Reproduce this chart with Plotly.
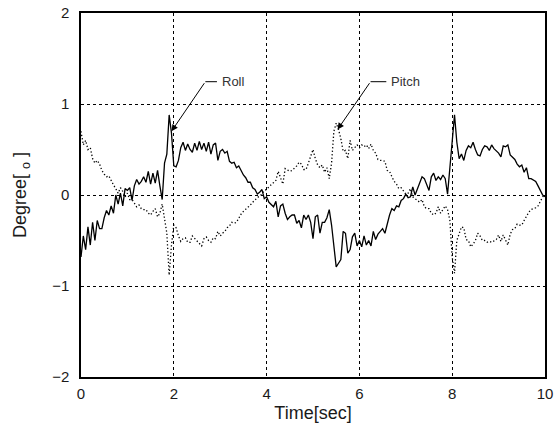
import numpy as np
import plotly.graph_objects as go

# sampled every 0.05 s from 0 to 10 s
roll = [
    -0.68, -0.45, -0.60, -0.35, -0.55, -0.30, -0.50, -0.28, -0.37, -0.37,
    -0.25, -0.17, -0.22, -0.12, -0.20, 0.00, -0.10, 0.02, -0.12, 0.07,
    0.05, 0.08, -0.06, 0.10, 0.17, 0.12, 0.15, 0.20, 0.14, 0.26,
    0.12, 0.24, 0.13, 0.27, 0.10, -0.05, 0.35, 0.45, 0.88, 0.68,
    0.32, 0.31, 0.38, 0.52, 0.58, 0.49, 0.56, 0.50, 0.47, 0.57,
    0.49, 0.59, 0.50, 0.57, 0.48, 0.58, 0.45, 0.55, 0.57, 0.38,
    0.48, 0.50, 0.46, 0.48, 0.37, 0.35, 0.36, 0.30, 0.32, 0.27,
    0.22, 0.19, 0.14, 0.14, 0.08, 0.06, 0.01, 0.03, 0.06, -0.04,
    -0.02, -0.08, -0.10, -0.13, -0.07, -0.24, -0.12, -0.10, -0.20, -0.27,
    -0.24, -0.22, -0.22, -0.31, -0.28, -0.36, -0.22, -0.27, -0.22, -0.30,
    -0.48, -0.24, -0.22, -0.42, -0.30, -0.30, -0.25, -0.16, -0.33, -0.55,
    -0.79, -0.75, -0.71, -0.40, -0.42, -0.64, -0.60, -0.46, -0.42, -0.56,
    -0.50, -0.57, -0.45, -0.55, -0.50, -0.56, -0.40, -0.49, -0.43, -0.40,
    -0.37, -0.42, -0.31, -0.22, -0.15, -0.17, -0.12, -0.13, -0.06, -0.04,
    0.01, -0.03, -0.02, 0.09, 0.00, 0.07, 0.15, 0.20, 0.18, 0.12,
    0.05, 0.20, 0.24, 0.16, 0.20, 0.17, 0.22, 0.18, 0.01, 0.30,
    0.62, 0.88, 0.58, 0.40, 0.45, 0.38, 0.49, 0.54, 0.52, 0.58,
    0.50, 0.44, 0.43, 0.50, 0.54, 0.53, 0.49, 0.55, 0.51, 0.49,
    0.46, 0.42, 0.54, 0.53, 0.55, 0.44, 0.42, 0.39, 0.34, 0.31,
    0.33, 0.25, 0.30, 0.18, 0.18, 0.16, 0.15, 0.10, 0.05, 0.00,
    -0.02,
]

pitch = [
    0.70, 0.55, 0.60, 0.50, 0.52, 0.40, 0.35, 0.38, 0.34, 0.27,
    0.23, 0.20, 0.21, 0.15, 0.11, 0.07, 0.02, 0.08, 0.04, -0.02,
    0.02, -0.05, -0.05, -0.09, -0.13, -0.11, -0.15, -0.16, -0.16, -0.20,
    -0.22, -0.18, -0.15, -0.24, -0.20, -0.10, -0.25, -0.42, -0.88, -0.55,
    -0.33, -0.36, -0.45, -0.51, -0.48, -0.47, -0.52, -0.52, -0.45, -0.48,
    -0.51, -0.54, -0.56, -0.48, -0.46, -0.50, -0.52, -0.47, -0.48, -0.40,
    -0.45, -0.42, -0.40, -0.36, -0.34, -0.30, -0.31, -0.30, -0.25, -0.21,
    -0.18, -0.16, -0.13, -0.11, -0.08, -0.05, -0.03, -0.01, 0.01, 0.05,
    0.06, 0.09, 0.11, 0.13, 0.16, 0.26, 0.19, 0.12, 0.29, 0.27,
    0.26, 0.27, 0.29, 0.32, 0.36, 0.34, 0.28, 0.28, 0.35, 0.42,
    0.50, 0.40, 0.33, 0.30, 0.33, 0.25, 0.30, 0.18, 0.35, 0.70,
    0.79, 0.72, 0.62, 0.48, 0.49, 0.40, 0.60, 0.49, 0.52, 0.55,
    0.52, 0.55, 0.53, 0.55, 0.51, 0.56, 0.49, 0.46, 0.39, 0.38,
    0.38, 0.37, 0.27, 0.26, 0.20, 0.15, 0.12, 0.07, 0.08, 0.05,
    0.01, 0.02, 0.07, -0.02, -0.04, -0.05, -0.08, -0.05, -0.13, -0.15,
    -0.15, -0.20, -0.22, -0.20, -0.13, -0.20, -0.16, -0.12, -0.16, -0.28,
    -0.68, -0.86, -0.50, -0.41, -0.35, -0.36, -0.49, -0.50, -0.57, -0.54,
    -0.50, -0.42, -0.45, -0.50, -0.50, -0.52, -0.51, -0.52, -0.50, -0.49,
    -0.44, -0.51, -0.44, -0.50, -0.55, -0.43, -0.38, -0.37, -0.32, -0.33,
    -0.33, -0.28, -0.23, -0.19, -0.16, -0.15, -0.14, -0.12, -0.06, -0.02,
    0.00,
]

time = np.linspace(0, 10, len(roll))

x_ticks = [0, 2, 4, 6, 8, 10]
y_ticks = [-2, -1, 0, 1, 2]

FONT = "Liberation Sans, Arial, sans-serif"

fig = go.Figure()
fig.add_trace(go.Scatter(x=time, y=pitch, mode="lines", name="Pitch",
                         line=dict(color="black", width=1.3, dash="1.3px,2.2px")))
fig.add_trace(go.Scatter(x=time, y=roll, mode="lines", name="Roll",
                         line=dict(color="black", width=1.3)))

# callouts: bent leader (horizontal piece + arrow) with label
for label, tip, tail, end in [("Roll", (1.95, 0.70), (2.68, 1.245), 2.93),
                              ("Pitch", (5.53, 0.72), (6.24, 1.245), 6.58)]:
    fig.add_annotation(x=tip[0], y=tip[1], ax=tail[0], ay=tail[1],
                       xref="x", yref="y", axref="x", ayref="y",
                       text="", showarrow=True, arrowhead=2, arrowsize=1.3,
                       arrowwidth=1, arrowcolor="black")
    fig.add_shape(type="line", x0=tail[0], y0=tail[1], x1=end, y1=tail[1],
                  line=dict(color="black", width=1))
    fig.add_annotation(x=end, y=tail[1], xref="x", yref="y", text=label,
                       showarrow=False, xanchor="left", xshift=3,
                       font=dict(size=13, color="#333", family=FONT))

fig.update_layout(
    width=555, height=434,
    margin=dict(l=81, r=10, t=13, b=57),
    paper_bgcolor="white", plot_bgcolor="white",
    showlegend=False,
    font=dict(family=FONT, size=15, color="#1a1a1a"),
)
fig.update_xaxes(
    range=[0, 10], tickvals=x_ticks, title=dict(text="Time[sec]", standoff=6),
    showgrid=True, gridcolor="black", griddash="dot", gridwidth=1,
    zeroline=False, showline=True, mirror=True, linecolor="black", linewidth=1.5,
    ticks="", ticklabelstandoff=2, automargin=False,
)
fig.update_yaxes(
    range=[-2, 2], tickvals=y_ticks, title=dict(text="Degree[ <sub>o</sub> ]", standoff=21),
    showgrid=True, gridcolor="black", griddash="dot", gridwidth=1,
    zeroline=False, showline=True, mirror=True, linecolor="black", linewidth=1.5,
    ticks="", ticklabelstandoff=7, automargin=False,
)

# drop the default page margin so the figure sits at the window origin
fig.write_html("out.html", config={"displayModeBar": False},
               post_script="document.body.style.margin='0';")
